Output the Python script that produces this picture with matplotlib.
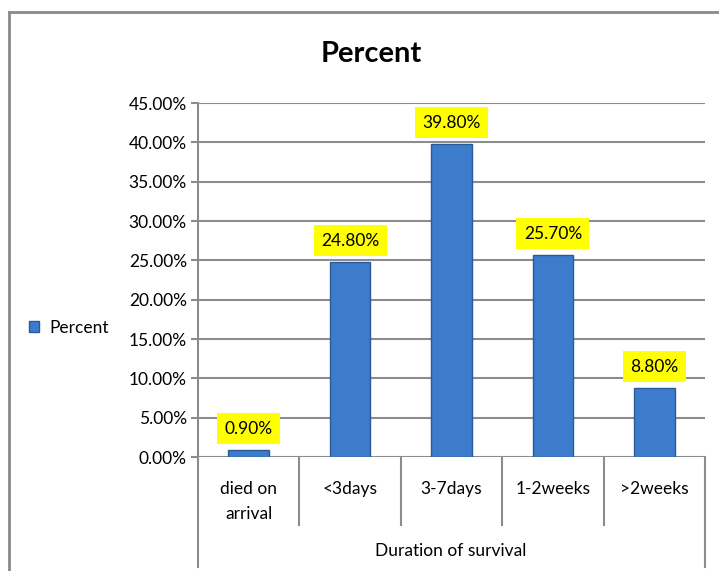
import numpy as np
import matplotlib.pyplot as plt
from matplotlib.lines import Line2D
from matplotlib.patches import Patch
import matplotlib.transforms as mtransforms

categories = ["died on\narrival", "<3days", "3-7days", "1-2weeks", ">2weeks"]
percent = [0.90, 24.80, 39.80, 25.70, 8.80]
yticks = [0, 5, 10, 15, 20, 25, 30, 35, 40, 45]

plt.rcParams['font.family'] = ['Lato', 'DejaVu Sans']

bar_color = "#3d7ccc"
edge_color = "#2a5a96"
grid_color = "#8c8c8c"


def main():
    fig = plt.figure(figsize=(7.19, 5.71), dpi=100)
    ax = fig.add_axes([198 / 719, 1 - 457 / 571, (705 - 198) / 719, (457 - 103) / 571])

    x = np.arange(len(categories))
    ax.bar(x, percent, width=0.4, color=bar_color, edgecolor=edge_color,
           linewidth=1, zorder=3)

    for xi, v in zip(x, percent):
        ax.annotate("%.2f%%" % v, (xi, v), xytext=(0, 9.5), textcoords="offset points",
                    ha="center", va="bottom", fontsize=12.5, zorder=4,
                    bbox=dict(boxstyle="square,pad=0.42", fc="#ffff00", ec="none"))

    ax.set_xlim(-0.5, len(categories) - 0.5)
    ax.set_ylim(0, 45)
    ax.set_yticks(yticks)
    ax.set_yticklabels(["%.2f%%" % t for t in yticks], fontsize=12.5)
    ax.tick_params(axis="y", length=5, color=grid_color, width=1.5, pad=3)
    ax.grid(axis="y", color=grid_color, linewidth=1.5, zorder=0)

    ax.set_xticks(x)
    ax.set_xticklabels(categories, fontsize=12.5, linespacing=1.75)
    ax.tick_params(axis="x", length=0, pad=17)

    for s in ["top", "right", "bottom"]:
        ax.spines[s].set_visible(False)
    ax.spines["left"].set_color(grid_color)
    ax.spines["left"].set_linewidth(1.5)

    # category boxes under the axis
    trans = mtransforms.blended_transform_factory(ax.transData, ax.transAxes)
    for b in np.arange(-0.5, len(categories), 1.0):
        low = -0.31 if b in (-0.5, len(categories) - 0.5) else -0.192
        ax.add_line(Line2D([b, b], [0, low], transform=trans, color=grid_color,
                           linewidth=1.5, clip_on=False))

    fig.text(451 / 719, 1 - 551 / 571, "Duration of survival", fontsize=12.5,
             ha="center", va="center")

    # chart border (left and top edges)
    fig.add_artist(Line2D([9 / 719, 9 / 719], [0, 1 - 12 / 571], color="#8a8a8a",
                          linewidth=2, transform=fig.transFigure))
    fig.add_artist(Line2D([9 / 719, 1], [1 - 12 / 571, 1 - 12 / 571], color="#8a8a8a",
                          linewidth=2, transform=fig.transFigure))

    fig.text(371 / 719, 1 - 54 / 571, "Percent", fontsize=21, fontweight="bold",
             ha="center", va="center")

    handle = Patch(facecolor=bar_color, edgecolor=edge_color)
    fig.legend([handle], ["Percent"], loc="center left", bbox_to_anchor=(13 / 719, 1 - 328 / 571),
               frameon=False, fontsize=12.5, handlelength=0.6, handleheight=0.6,
               handletextpad=0.6)

    fig.savefig("out.png", dpi=100)


if __name__ == '__main__':
    main()
